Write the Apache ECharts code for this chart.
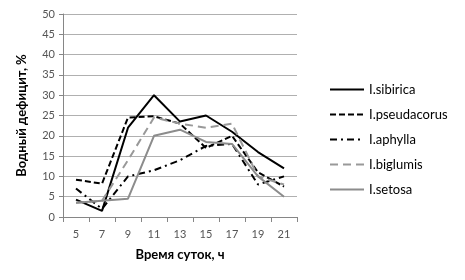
<!DOCTYPE html>
<html>
<head>
<meta charset="utf-8">
<script src="https://cdn.jsdelivr.net/npm/echarts@6/dist/echarts.min.js"></script>
<style>
  html, body { margin: 0; padding: 0; background: #fff; }
  #chart { width: 465px; height: 280px; }
</style>
</head>
<body>
<div id="chart"></div>
<script>
var hours = ['5', '7', '9', '11', '13', '15', '17', '19', '21'];
var sibirica    = [4.3, 1.5, 22, 30, 23.5, 25, 21, 16, 12];
var pseudacorus = [9.2, 8.2, 24.5, 24.8, 23, 17, 20, 11, 7.5];
var aphylla     = [7, 2, 10, 11.5, 14, 17.5, 18, 8, 10];
var biglumis    = [3.5, 4, 14, 24.5, 23, 22, 23, 10, 8];
var setosa      = [3.5, 4, 4.5, 20, 21.5, 18.5, 18, 10, 5];

var font = 'Lato';
var chart = echarts.init(document.getElementById('chart'));

function line(name, data, color, type) {
  return {
    name: name,
    type: 'line',
    data: data,
    symbol: 'none',
    lineStyle: { color: color, width: 2, type: type },
    itemStyle: { color: color }
  };
}

chart.setOption({
  animation: false,
  grid: { left: 63, right: 168, top: 14, bottom: 63 },
  legend: {
    orient: 'vertical',
    left: 324,
    top: 78,
    itemGap: 12,
    itemWidth: 34,
    itemHeight: 14,
    itemStyle: { opacity: 0 },
    textStyle: { fontFamily: font, fontSize: 13, color: '#000' },
    data: ['I.sibirica', 'I.pseudacorus', 'I.aphylla', 'I.biglumis', 'I.setosa']
  },
  xAxis: {
    type: 'category',
    data: hours,
    boundaryGap: true,
    name: 'Время суток, ч',
    nameLocation: 'middle',
    nameGap: 31,
    nameTextStyle: { fontFamily: font, fontSize: 13, fontWeight: 'bold', color: '#000' },
    axisLine: { lineStyle: { color: '#868686' } },
    axisTick: { show: true, length: 5, lineStyle: { color: '#868686' } },
    axisLabel: { fontFamily: font, fontSize: 11, color: '#555', margin: 12 }
  },
  yAxis: {
    type: 'value',
    min: 0,
    max: 50,
    interval: 5,
    name: 'Водный дефицит, %',
    nameLocation: 'middle',
    nameGap: 35,
    nameTextStyle: { fontFamily: font, fontSize: 13, fontWeight: 'bold', color: '#000' },
    axisLine: { show: true, lineStyle: { color: '#868686' } },
    axisTick: { show: true, length: 4, lineStyle: { color: '#868686' } },
    axisLabel: { fontFamily: font, fontSize: 11, color: '#555', margin: 8 },
    splitLine: { lineStyle: { color: '#b0b0b0', width: 1 } }
  },
  series: [
    line('I.sibirica', sibirica, '#000', 'solid'),
    line('I.pseudacorus', pseudacorus, '#000', [6, 3]),
    line('I.aphylla', aphylla, '#000', [7, 4, 2, 4]),
    line('I.biglumis', biglumis, '#999', [8, 5]),
    line('I.setosa', setosa, '#8c8c8c', 'solid')
  ]
});
</script>
</body>
</html>
